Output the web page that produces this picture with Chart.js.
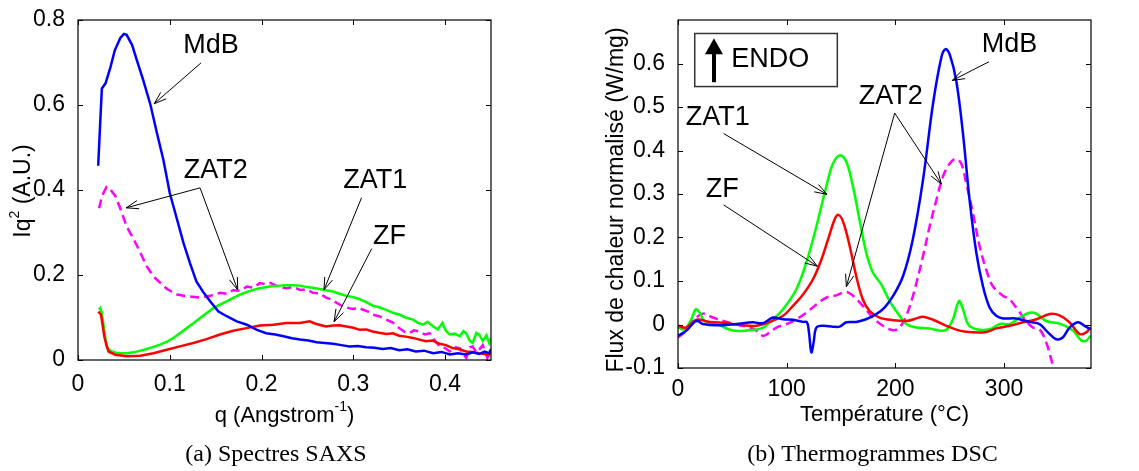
<!DOCTYPE html>
<html>
<head>
<meta charset="utf-8">
<script src="https://cdn.jsdelivr.net/npm/chart.js@4/dist/chart.umd.min.js"></script>
<style>
body { margin: 0; background: #fff; width: 1139px; height: 471px; overflow: hidden; position: relative; }
canvas { position: absolute; top: 0; }
#saxs { left: 0; }
#dsc { left: 570px; }
</style>
</head>
<body>
<canvas id="saxs" width="570" height="471"></canvas>
<canvas id="dsc" width="569" height="471"></canvas>
<script>
// (a) SAXS spectra : q (1/Angstrom) vs Iq^2 (A.U.)
const saxsXTicks = [0, 0.1, 0.2, 0.3, 0.4];
const saxsYTicks = [0, 0.2, 0.4, 0.6, 0.8];

const saxsQMdB = [0.022,0.024,0.026,0.030,0.035,0.040,0.046,0.050,0.053,0.059,0.064,0.071,0.079,0.086,0.093,0.100,0.108,0.115,0.122,0.129,0.137,0.144,0.153,0.162,0.173,0.184,0.195,0.205,0.215,0.224,0.233,0.242,0.251,0.260,0.269,0.278,0.287,0.296,0.305,0.314,0.323,0.332,0.341,0.350,0.359,0.368,0.377,0.387,0.396,0.405,0.414,0.423,0.430,0.437,0.443,0.448,0.450];
const saxsMdB  = [0.457,0.549,0.639,0.651,0.686,0.728,0.757,0.767,0.765,0.741,0.706,0.659,0.600,0.534,0.471,0.393,0.330,0.275,0.228,0.185,0.158,0.138,0.114,0.103,0.091,0.083,0.071,0.063,0.060,0.056,0.051,0.048,0.046,0.042,0.040,0.038,0.035,0.032,0.033,0.030,0.029,0.026,0.028,0.023,0.025,0.020,0.022,0.016,0.019,0.013,0.016,0.013,0.018,0.014,0.020,0.016,0.026];

const saxsQZF = [0.0221,0.025,0.027,0.0286,0.031,0.0333,0.0406,0.0533,0.0678,0.0822,0.0967,0.111,0.1257,0.140,0.1547,0.169,0.1837,0.198,0.2127,0.227,0.2417,0.2525,0.258,0.263,0.270,0.278,0.285,0.2924,0.300,0.307,0.314,0.321,0.328,0.336,0.343,0.350,0.357,0.365,0.372,0.379,0.386,0.394,0.401,0.408,0.416,0.423,0.430,0.437,0.443,0.448,0.450];
const saxsZF  = [0.114,0.107,0.080,0.056,0.035,0.020,0.0125,0.0086,0.010,0.016,0.024,0.032,0.040,0.049,0.060,0.069,0.075,0.081,0.083,0.087,0.087,0.091,0.086,0.083,0.079,0.081,0.082,0.079,0.076,0.071,0.072,0.067,0.064,0.061,0.063,0.057,0.055,0.052,0.048,0.044,0.046,0.038,0.035,0.028,0.025,0.020,0.019,0.016,0.014,0.0125,0.018];

const saxsQZAT1 = [0.0228,0.0243,0.026,0.028,0.030,0.0315,0.034,0.037,0.041,0.046,0.053,0.0605,0.068,0.075,0.082,0.0895,0.097,0.104,0.111,0.1185,0.126,0.133,0.140,0.1475,0.155,0.162,0.169,0.1764,0.184,0.191,0.198,0.2054,0.213,0.22,0.227,0.2344,0.242,0.249,0.256,0.263,0.270,0.278,0.285,0.2924,0.300,0.307,0.314,0.321,0.328,0.336,0.343,0.350,0.357,0.365,0.370,0.3757,0.381,0.387,0.392,0.397,0.401,0.405,0.410,0.416,0.420,0.423,0.427,0.430,0.434,0.437,0.441,0.445,0.448,0.450];
const saxsZAT1  = [0.118,0.122,0.110,0.079,0.050,0.032,0.024,0.020,0.017,0.016,0.016,0.018,0.022,0.026,0.031,0.036,0.043,0.052,0.063,0.075,0.087,0.099,0.110,0.122,0.131,0.138,0.146,0.154,0.160,0.165,0.169,0.172,0.174,0.175,0.176,0.176,0.175,0.172,0.170,0.167,0.164,0.161,0.156,0.151,0.148,0.143,0.136,0.128,0.124,0.118,0.111,0.107,0.100,0.095,0.088,0.083,0.090,0.079,0.072,0.087,0.068,0.060,0.062,0.056,0.068,0.063,0.045,0.040,0.064,0.060,0.045,0.058,0.040,0.052];

const saxsQZAT2 = [0.023,0.026,0.031,0.035,0.041,0.046,0.053,0.061,0.068,0.075,0.082,0.090,0.097,0.108,0.119,0.133,0.144,0.155,0.162,0.169,0.177,0.184,0.191,0.198,0.205,0.210,0.216,0.222,0.227,0.234,0.242,0.249,0.256,0.263,0.271,0.277,0.282,0.289,0.295,0.300,0.305,0.311,0.316,0.321,0.328,0.336,0.343,0.350,0.356,0.361,0.366,0.372,0.378,0.383,0.388,0.394,0.400,0.405,0.410,0.416,0.420,0.423,0.427,0.430,0.434,0.437,0.441,0.446,0.450];
const saxsZAT2  = [0.357,0.385,0.407,0.402,0.385,0.357,0.314,0.283,0.252,0.220,0.197,0.181,0.167,0.154,0.150,0.147,0.151,0.158,0.156,0.164,0.163,0.173,0.170,0.181,0.178,0.181,0.175,0.171,0.169,0.172,0.165,0.166,0.158,0.157,0.146,0.142,0.134,0.126,0.122,0.120,0.123,0.118,0.114,0.107,0.103,0.095,0.088,0.075,0.066,0.063,0.070,0.067,0.060,0.063,0.048,0.032,0.028,0.020,0.030,0.028,0.012,0.005,0.030,0.032,0.018,0.024,0.035,0.005,0.020];

// (b) DSC thermograms : temperature (C) vs normalised heat flow (W/mg)
const dscXTicks = [0, 100, 200, 300];
const dscYTicks = [-0.1, 0, 0.1, 0.2, 0.3, 0.4, 0.5, 0.6];

const dscTMdB = [0,7.7,15.3,18.4,23,38,53.7,69,78,87.4,96.6,106,115,118.7,120.5,122.7,124.8,127.3,133.4,142.6,148.7,154.9,164,173,182.5,190,197.8,207,216,225.4,234.6,242.3,246.2,250,256,262.2,268.3,274.5,280.6,286.7,292.8,299,311,323.5,332.7,340.4,348,354,360.3,368,374,379.6];
const dscMdB  = [-0.026,-0.014,0.006,0.008,0.001,-0.002,0.001,0.005,0.003,0.016,0.012,0.011,0.006,0.005,-0.018,-0.064,-0.041,-0.007,-0.003,-0.005,-0.005,0.005,0.006,0.012,0.024,0.039,0.065,0.111,0.195,0.332,0.507,0.614,0.633,0.621,0.561,0.439,0.286,0.165,0.088,0.039,0.020,0.014,0.014,0.006,0.001,-0.018,-0.034,-0.030,-0.007,0.005,-0.003,-0.011];

const dscTZF = [0,7.7,16.9,29,44.5,59.8,72,84.3,96.6,105.8,115,124.2,131.9,138,144,147.5,151.8,158,164,170,176.3,185.5,197.8,210,219.3,225.4,234.6,246.9,259,271.4,283.6,292.8,305,317.4,329.7,342,351,360.3,369.5,375.6,379.6];
const dscZF  = [-0.003,-0.007,0.011,0.006,0.003,-0.002,-0.003,0.006,0.020,0.043,0.069,0.104,0.149,0.195,0.241,0.252,0.237,0.180,0.111,0.058,0.031,0.016,0.010,0.008,0.014,0.018,0.011,-0.003,-0.014,-0.018,-0.017,-0.009,-0.003,0.005,0.012,0.024,0.021,0.005,-0.022,-0.018,-0.007];

const dscTZAT1 = [0,6,12.3,16.3,20,24.5,35.3,50.6,66,78.2,87.4,96.6,108.9,118,127.3,136.4,142.6,149.3,154.9,161,167,173.2,179.4,187,194.7,203.9,210,219.3,231.5,240.7,247,253,258.5,262.2,266.8,274.5,286.7,296,305,314.3,323.5,329.7,338.8,351,363.4,371,375.6,379.6];
const dscZAT1  = [-0.007,-0.011,0.012,0.035,0.027,0.008,0.001,-0.014,-0.013,-0.007,0.012,0.035,0.081,0.142,0.225,0.317,0.370,0.389,0.374,0.317,0.241,0.165,0.119,0.092,0.054,0.020,0.001,-0.007,-0.009,-0.014,-0.012,0.012,0.054,0.035,0.001,-0.011,-0.011,0.001,0.001,0.016,0.027,0.025,0.008,0.002,-0.014,-0.037,-0.037,-0.026];

const dscTZAT2 = [0,7.7,15.3,23,32.2,44.5,59.8,70.5,78.2,84.3,90.5,99.7,108.9,118,127.3,136.4,145.6,154.9,161,170,179.4,188.6,197.8,203.9,210,216.2,225.4,231.5,237.7,243.8,250,255.4,260.6,265.3,271.4,277.5,283.6,289.7,299,305,311.2,320.4,326.6,332.7,338.8,345,347.4];
const dscZAT2  = [-0.030,-0.014,0.012,0.025,0.016,0.006,-0.003,-0.011,-0.026,-0.018,-0.007,0.001,0.012,0.027,0.046,0.062,0.067,0.075,0.066,0.043,0.016,-0.003,-0.013,-0.007,0.020,0.066,0.157,0.225,0.286,0.340,0.370,0.381,0.370,0.324,0.256,0.180,0.126,0.088,0.066,0.058,0.039,0.008,-0.007,-0.011,-0.041,-0.094,-0.106];

const seriesNames = ['MdB', 'ZF', 'ZAT1', 'ZAT2'];
const seriesColors = ['#0000ff', '#ff0000', '#00ff00', '#ff00ff'];

const SANS = '"Liberation Sans", Arial, sans-serif';
const SERIF = '"Liberation Serif", "Times New Roman", serif';

function toPoints(xs, ys) {
    return xs.map((x, i) => ({ x: x, y: ys[i] }));
}

function makeDatasets(pairs, tension) {
    return pairs.map((p, i) => ({
        label: seriesNames[i],
        data: toPoints(p[0], p[1]),
        borderColor: seriesColors[i],
        borderWidth: 2.5,
        borderDash: seriesNames[i] === 'ZAT2' ? [9, 5] : [],
        pointRadius: 0,
        tension: tension,
        fill: false
    }));
}

// draw a thin arrow with an open head at (x2, y2)
function arrow(ctx, x1, y1, x2, y2) {
    const a = Math.atan2(y2 - y1, x2 - x1);
    const len = 13, spread = 0.33;
    ctx.beginPath();
    ctx.moveTo(x1, y1);
    ctx.lineTo(x2, y2);
    ctx.moveTo(x2 - len * Math.cos(a - spread), y2 - len * Math.sin(a - spread));
    ctx.lineTo(x2, y2);
    ctx.lineTo(x2 - len * Math.cos(a + spread), y2 - len * Math.sin(a + spread));
    ctx.stroke();
}

// text made of pieces, some of them superscript
function drawPieces(ctx, pieces, size, cx, cy) {
    ctx.textBaseline = 'middle';
    if (pieces.length === 1) {
        ctx.font = size + 'px ' + SANS;
        ctx.textAlign = 'center';
        ctx.fillText(pieces[0].t, cx, cy);
        return;
    }
    let w = 0;
    pieces.forEach(p => {
        ctx.font = (p.sup ? Math.round(size * 0.62) : size) + 'px ' + SANS;
        w += ctx.measureText(p.t).width;
    });
    let x = cx - w / 2;
    ctx.textAlign = 'left';
    pieces.forEach(p => {
        ctx.font = (p.sup ? Math.round(size * 0.62) : size) + 'px ' + SANS;
        ctx.fillText(p.t, x, p.sup ? cy - size * 0.38 : cy);
        x += ctx.measureText(p.t).width;
    });
}

const decorPlugin = {
    id: 'decor',
    afterDraw(chart, args, o) {
        const ctx = chart.ctx;
        const a = chart.chartArea;
        const xs = chart.scales.x, ys = chart.scales.y;
        ctx.save();
        // frame and inward ticks
        ctx.strokeStyle = '#000';
        ctx.lineWidth = 1.2;
        ctx.strokeRect(a.left, a.top, a.right - a.left, a.bottom - a.top);
        ctx.lineWidth = 1;
        ctx.beginPath();
        xs.ticks.forEach(t => {
            const px = Math.round(xs.getPixelForValue(t.value)) + 0.5;
            ctx.moveTo(px, a.bottom); ctx.lineTo(px, a.bottom - 5);
            ctx.moveTo(px, a.top); ctx.lineTo(px, a.top + 5);
        });
        ys.ticks.forEach(t => {
            const py = Math.round(ys.getPixelForValue(t.value)) + 0.5;
            ctx.moveTo(a.left, py); ctx.lineTo(a.left + 5, py);
            ctx.moveTo(a.right, py); ctx.lineTo(a.right - 5, py);
        });
        ctx.stroke();

        // axis titles
        ctx.fillStyle = '#000';
        drawPieces(ctx, o.xTitle, 22, (a.left + a.right) / 2 + o.xTitleDx, o.xTitleY);
        ctx.save();
        ctx.translate(o.yTitleX, o.yTitleY);
        ctx.rotate(-Math.PI / 2);
        drawPieces(ctx, o.yTitle, 23, 0, 0);
        ctx.restore();

        // annotations
        ctx.font = '27px ' + SANS;
        ctx.textAlign = 'center';
        ctx.textBaseline = 'middle';
        o.labels.forEach(l => {
            ctx.fillText(l[0], xs.getPixelForValue(l[1]), ys.getPixelForValue(l[2]));
        });
        ctx.lineWidth = 1;
        o.arrows.forEach(r => {
            arrow(ctx, xs.getPixelForValue(r[0]), ys.getPixelForValue(r[1]),
                  xs.getPixelForValue(r[2]), ys.getPixelForValue(r[3]));
        });

        // ENDO box
        if (o.endo) {
            const e = o.endo;
            const bl = xs.getPixelForValue(e.box[0]), br = xs.getPixelForValue(e.box[1]);
            const bt = ys.getPixelForValue(e.box[2]), bb = ys.getPixelForValue(e.box[3]);
            ctx.strokeStyle = '#333';
            ctx.lineWidth = 1.5;
            ctx.strokeRect(bl, bt, br - bl, bb - bt);
            const ax = xs.getPixelForValue(e.arrowX);
            const a0 = ys.getPixelForValue(e.arrowY[0]), a1 = ys.getPixelForValue(e.arrowY[1]);
            ctx.strokeStyle = '#000';
            ctx.lineWidth = 4;
            ctx.beginPath();
            ctx.moveTo(ax, a0); ctx.lineTo(ax, a1 + 12);
            ctx.stroke();
            ctx.beginPath();
            ctx.moveTo(ax, a1); ctx.lineTo(ax - 9, a1 + 16); ctx.lineTo(ax + 9, a1 + 16);
            ctx.closePath();
            ctx.fill();
            ctx.font = '27px ' + SANS;
            ctx.textAlign = 'left';
            ctx.fillText('ENDO', xs.getPixelForValue(e.textX), ys.getPixelForValue(e.textY));
        }

        // caption
        ctx.font = '24px ' + SERIF;
        ctx.textAlign = 'center';
        ctx.textBaseline = 'middle';
        ctx.fillText(o.caption, o.captionX, 455);
        ctx.restore();
    }
};

function fmt(v) {
    return String(Number(v.toFixed(2)));
}

function baseOptions(plotLeft, plotBottom, rightPad, height, xr, xTicks, yr, yTicks, xPad, decor) {
    return {
        responsive: false,
        animation: false,
        layout: { padding: { top: 20, right: rightPad, left: 0, bottom: 0 } },
        plugins: { legend: { display: false }, tooltip: { enabled: false }, decor: decor },
        scales: {
            x: {
                type: 'linear', min: xr[0], max: xr[1],
                ticks: { color: '#000', padding: xPad, maxRotation: 0, autoSkip: false,
                         font: { family: SANS, size: 23 }, callback: fmt },
                grid: { display: false }, border: { display: false },
                afterFit: s => { s.height = height - plotBottom; },
                afterBuildTicks: s => { s.ticks = xTicks.map(v => ({ value: v })); }
            },
            y: {
                type: 'linear', min: yr[0], max: yr[1],
                ticks: { color: '#000', padding: 5, autoSkip: false,
                         font: { family: SANS, size: 23 }, callback: fmt },
                grid: { display: false }, border: { display: false },
                afterFit: s => { s.width = plotLeft; },
                afterBuildTicks: s => { s.ticks = yTicks.map(v => ({ value: v })); }
            }
        }
    };
}

new Chart(document.getElementById('saxs'), {
    type: 'line',
    data: {
        datasets: makeDatasets([
            [saxsQMdB, saxsMdB], [saxsQZF, saxsZF], [saxsQZAT1, saxsZAT1], [saxsQZAT2, saxsZAT2]
        ], 0)
    },
    options: baseOptions(78, 360, 79, 471, [0, 0.45], saxsXTicks, [0, 0.8], saxsYTicks, 3, {
        xTitle: [{ t: 'q (Angstrom' }, { t: '-1', sup: true }, { t: ')' }],
        xTitleDx: 0, xTitleY: 416,
        yTitle: [{ t: 'Iq' }, { t: '2', sup: true }, { t: ' (A.U.)' }],
        yTitleX: 24, yTitleY: 191,
        labels: [['MdB', 0.145, 0.739], ['ZAT2', 0.150, 0.445], ['ZAT1', 0.324, 0.422], ['ZF', 0.3395, 0.290]],
        arrows: [[0.134, 0.699, 0.083, 0.603], [0.133, 0.405, 0.0525, 0.358], [0.133, 0.405, 0.174, 0.165],
                 [0.309, 0.382, 0.268, 0.165], [0.320, 0.262, 0.279, 0.090]],
        caption: '(a) Spectres SAXS', captionX: 276
    }),
    plugins: [decorPlugin]
});

new Chart(document.getElementById('dsc'), {
    type: 'line',
    data: {
        datasets: makeDatasets([
            [dscTMdB, dscMdB], [dscTZF, dscZF], [dscTZAT1, dscZAT1], [dscTZAT2, dscZAT2]
        ], 0.35)
    },
    options: baseOptions(108, 368, 48, 471, [0, 380], dscXTicks, [-0.1, 0.7], dscYTicks, 0, {
        xTitle: [{ t: 'Température (°C)' }],
        xTitleDx: 0, xTitleY: 415,
        yTitle: [{ t: 'Flux de chaleur normalisé (W/mg)' }],
        yTitleX: 47, yTitleY: 200,
        labels: [['MdB', 305.1, 0.643], ['ZAT2', 195.7, 0.524], ['ZAT1', 36.5, 0.476], ['ZF', 40.7, 0.311]],
        arrows: [[286.1, 0.604, 252.4, 0.561], [199.4, 0.486, 242.3, 0.323], [199.4, 0.486, 154.9, 0.087],
                 [42, 0.439, 137.1, 0.299], [42, 0.275, 128.2, 0.134]],
        endo: { box: [15.4, 146.6, 0.669, 0.547], arrowX: 33.1, arrowY: [0.557, 0.658], textX: 49.1, textY: 0.608 },
        caption: '(b) Thermogrammes DSC', captionX: 302.5
    }),
    plugins: [decorPlugin]
});
</script>
</body>
</html>
